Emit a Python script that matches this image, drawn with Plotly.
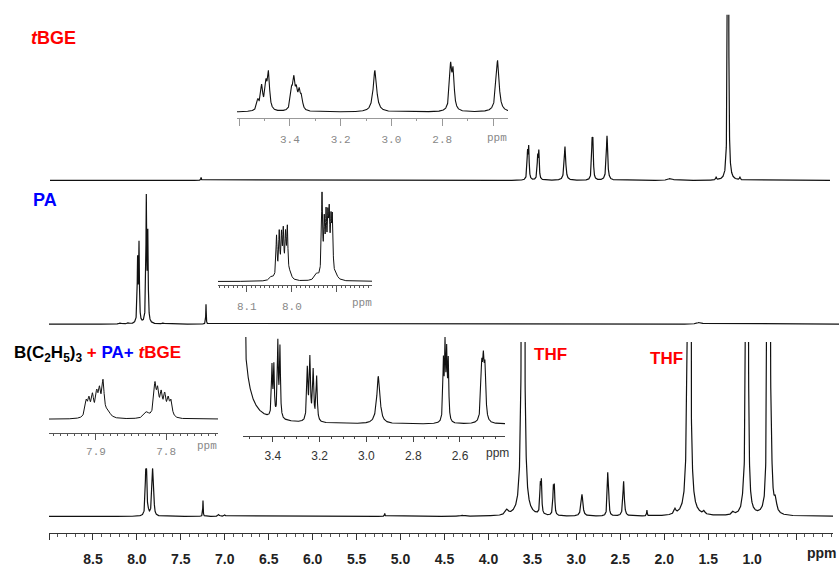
import numpy as np
import plotly.graph_objects as go

W, H = 839, 567

# ---------------- data: peak lists (ppm, intensity, half-width) ----------------
# top spectrum: tBGE
TBGE_PPM = [7.27, 3.556, 3.543, 3.441, 3.428, 3.130, 2.822, 2.812, 2.652, 1.93, 1.41, 1.275, 1.14]
TBGE_INT = [3, 26, 31, 22, 27, 34, 34, 34, 45, 2, 3, 1500, 3]
TBGE_W = [0.004, 0.006, 0.006, 0.006, 0.006, 0.010, 0.006, 0.006, 0.009, 0.03, 0.005, 0.003, 0.005]

# middle spectrum: PA
PA_PPM = [8.19, 8.10, 7.992, 7.976, 7.893, 7.876, 7.70, 7.214, 1.60]
PA_INT = [1.2, 1.2, 62, 78, 124, 86, 1.2, 20, 2]
PA_W = [0.01, 0.01, 0.005, 0.005, 0.005, 0.005, 0.01, 0.003, 0.03]

# bottom spectrum: B(C2H5)3 + PA + tBGE
MIX_PPM = [7.900, 7.890, 7.870, 7.840, 7.822, 7.812, 7.248, 7.07, 7.00, 5.18, 4.30, 3.79,
           3.607, 3.410, 3.398, 3.262, 3.250, 2.936, 2.643, 2.633, 2.462, 2.197, 1.878,
           1.719, 1.548, 1.218, 1.100, 1.068, 1.059, 1.050, 0.828, 0.814, 0.800, 0.780, 0.735]
MIX_INT = [37, 37, 3, 3, 37, 36, 16, 2, 1.5, 3, 1, 5,
           4000, 27, 31, 26, 27, 22, 39, 20, 35, 6, 5,
           4000, 3, 3, 8, 400, 800, 400, 300, 900, 500, 25, 12]
MIX_W = [0.006, 0.006, 0.01, 0.01, 0.006, 0.006, 0.003, 0.01, 0.01, 0.004, 0.02, 0.02,
         0.0045, 0.006, 0.006, 0.006, 0.006, 0.012, 0.006, 0.006, 0.009, 0.004, 0.012,
         0.0045, 0.012, 0.015, 0.015, 0.005, 0.005, 0.005, 0.005, 0.005, 0.005, 0.012, 0.015]

# inset: tBGE 2.5-3.6 ppm
TI_PPM = [3.526, 3.511, 3.494, 3.484, 3.393, 3.384, 3.374, 3.363, 3.354, 3.065, 2.767, 2.757, 2.582]
TI_INT = [10, 24, 24, 36, 18, 28, 17, 17, 12, 42, 43, 37, 52]
TI_W = [0.005, 0.005, 0.005, 0.005, 0.005, 0.005, 0.005, 0.005, 0.005, 0.008, 0.005, 0.005, 0.007]

# inset: PA 7.8-8.15 ppm
PI_PPM = [8.045, 8.034, 8.028, 8.023, 8.019, 8.014, 8.010, 8.004,
          7.945, 7.933, 7.928, 7.924, 7.920, 7.917, 7.913, 7.910, 7.902]
PI_INT = [4, 42, 44, 40, 44, 40, 48, 6,
          6, 82, 50, 56, 50, 55, 48, 54, 4]
PI_W = [0.005, 0.0015, 0.0015, 0.0015, 0.0015, 0.0015, 0.0015, 0.004,
        0.005, 0.0015, 0.0015, 0.0015, 0.0015, 0.0015, 0.0015, 0.0015, 0.005]

# inset: mixture 7.75-7.95 ppm
MA_PPM = [7.914, 7.910, 7.905, 7.899, 7.895, 7.890, 7.883,
          7.828, 7.816, 7.812, 7.807, 7.802, 7.797, 7.793]
MA_INT = [15, 16, 20, 21, 23, 34, 6,
          6, 31, 23, 21, 20, 16, 15]
MA_W = [0.002, 0.002, 0.002, 0.002, 0.002, 0.002, 0.004,
        0.004, 0.002, 0.002, 0.002, 0.002, 0.002, 0.002]

# inset: mixture 2.45-3.5 ppm
MB_PPM = [3.563, 3.404, 3.396, 3.379, 3.370, 3.253, 3.242, 3.228, 3.213, 2.949,
          2.671, 2.664, 2.657, 2.650, 2.507, 2.500, 2.493]
MB_INT = [3200, 50, 50, 75, 70, 52, 62, 50, 45, 48,
          58, 72, 64, 58, 50, 50, 48]
MB_W = [0.007, 0.0025, 0.0025, 0.0025, 0.0025, 0.003, 0.003, 0.003, 0.003, 0.008,
        0.0025, 0.0025, 0.0025, 0.0025, 0.004, 0.004, 0.004]

MAIN_TICKS = [9.0, 8.5, 8.0, 7.5, 7.0, 6.5, 6.0, 5.5, 5.0, 4.5, 4.0, 3.5, 3.0, 2.5, 2.0, 1.5, 1.0, 0.5]
MAIN_LABELS = ["", "8.5", "8.0", "7.5", "7.0", "6.5", "6.0", "5.5", "5.0", "4.5", "4.0",
               "3.5", "3.0", "2.5", "2.0", "1.5", "1.0", ""]
TI_TICKS = [3.6, 3.4, 3.2, 3.0, 2.8, 2.6]
TI_LABELS = ["", "3.4", "3.2", "3.0", "2.8", ""]
PI_TICKS = [8.1, 8.0, 7.9]
PI_LABELS = ["8.1", "8.0", ""]
MA_TICKS = [7.9, 7.8]
MA_LABELS = ["7.9", "7.8"]
MB_TICKS = [3.4, 3.2, 3.0, 2.8, 2.6]
MB_LABELS = ["3.4", "3.2", "3.0", "2.8", "2.6"]


def spectrum(x, pos, hts, wid):
    y = np.zeros_like(x)
    for c, h, w in zip(pos, hts, wid):
        y += h * w * w / ((x - c) ** 2 + w * w)
    return y


def dx(a, b):
    return [a / W, b / W]


def dy(top, bottom):
    return [1 - bottom / H, 1 - top / H]


fig = go.Figure()


def add(x, pos, hts, wid, xa, ya, width=1.2):
    y = spectrum(x, pos, hts, wid)
    fig.add_trace(go.Scatter(x=np.round(x, 4), y=np.round(y, 2), mode="lines",
                             line=dict(color="#111111", width=width),
                             xaxis=xa, yaxis=ya, hoverinfo="skip", showlegend=False))


xm = np.arange(0.0, 9.05, 0.001)
add(xm, MIX_PPM, MIX_INT, MIX_W, "x", "y")
add(xm, PA_PPM, PA_INT, PA_W, "x2", "y2")
add(xm, TBGE_PPM, TBGE_INT, TBGE_W, "x3", "y3")
add(np.arange(2.5, 3.65, 0.0002), TI_PPM, TI_INT, TI_W, "x4", "y4", 1.1)
add(np.arange(7.8, 8.2, 0.0002), PI_PPM, PI_INT, PI_W, "x5", "y5", 1.0)
add(np.arange(7.7, 7.98, 0.0002), MA_PPM, MA_INT, MA_W, "x6", "y6", 1.0)
add(np.arange(2.38, 3.55, 0.0002), MB_PPM, MB_INT, MB_W, "x7", "y7", 1.1)

hidden = dict(visible=False, showgrid=False, zeroline=False)

layout = dict(
    width=W, height=H, margin=dict(l=0, r=0, t=0, b=0),
    paper_bgcolor="white", plot_bgcolor="rgba(0,0,0,0)", showlegend=False,
    xaxis=dict(domain=dx(49, 833), range=[9.0, 0.08], anchor="y",
               showline=True, linecolor="#333", linewidth=1,
               showgrid=False, zeroline=False,
               tickmode="array", tickvals=MAIN_TICKS, ticktext=MAIN_LABELS,
               ticks="outside", ticklen=6, tickcolor="#333", tickwidth=1,
               ticklabelstandoff=7,
               tickfont=dict(family="Liberation Sans, Arial", size=14, color="#222", weight="bold"),
               minor=dict(tickmode="linear", tick0=0, dtick=0.1, ticks="outside",
                          ticklen=3, tickcolor="#555", tickwidth=1)),
    yaxis=dict(domain=dy(345, 538), range=[-17, 176], **hidden),
    xaxis2=dict(domain=dx(49, 839), range=[9.0, 0.013], anchor="y2", **hidden),
    yaxis2=dict(domain=dy(185, 335), range=[-8, 142], **hidden),
    xaxis3=dict(domain=dx(50, 830), range=[8.989, 0.115], anchor="y3", **hidden),
    yaxis3=dict(domain=dy(15, 190), range=[-8, 167], **hidden),
)


def inset_x(dom, rng, ya, tv, tt, minor_dt, lc, font, size, fcolor, tlen, standoff):
    return dict(domain=dom, range=rng, anchor=ya, showline=True, linecolor=lc, linewidth=1,
                showgrid=False, zeroline=False, tickmode="array", tickvals=tv, ticktext=tt,
                ticks="outside", ticklen=tlen, tickcolor=lc, tickwidth=1,
                ticklabelstandoff=standoff,
                tickfont=dict(family=font, size=size, color=fcolor),
                minor=dict(tickmode="linear", tick0=0, dtick=minor_dt, ticks="outside",
                           ticklen=2, tickcolor=lc, tickwidth=1))


MONO = "Liberation Mono, Courier New, monospace"
SANS = "Liberation Sans, Arial"
layout["xaxis4"] = inset_x(dx(237, 508), [3.608, 2.541], "y4", TI_TICKS, TI_LABELS, 0.1,
                           "#999", MONO, 11, "#888", 7, 4)
layout["yaxis4"] = dict(domain=dy(55, 119), range=[-6, 58], **hidden)
layout["xaxis5"] = inset_x(dx(218, 372), [8.164, 7.822], "y5", PI_TICKS, PI_LABELS, 0.01,
                           "#555", MONO, 11, "#888", 6, 4)
layout["yaxis5"] = dict(domain=dy(185, 288), range=[-4, 99], **hidden)
layout["xaxis6"] = inset_x(dx(49, 218), [7.967, 7.726], "y6", MA_TICKS, MA_LABELS, 0.01,
                           "#555", MONO, 11, "#888", 6, 2)
layout["yaxis6"] = dict(domain=dy(378, 437), range=[-14, 45], **hidden)
layout["xaxis7"] = inset_x(dx(243, 505), [3.528, 2.4075], "y7", MB_TICKS, MB_LABELS, 0.05,
                           "#444", SANS, 12, "#333", 5, 3)
layout["yaxis7"] = dict(domain=dy(340, 440), range=[-12, 88], **hidden)

fig.update_layout(**layout)


def ann(x, y, text, size, color="#000", family="Liberation Sans, Arial", bold=True, anchor="left"):
    fig.add_annotation(x=x / W, y=1 - y / H, xref="paper", yref="paper", text=text,
                       showarrow=False, xanchor=anchor, yanchor="middle",
                       font=dict(family=family, size=size, color=color,
                                 weight="bold" if bold else "normal"))


RED, BLUE = "#ff0000", "#0000ff"
ann(29, 38, "<i>t</i>BGE", 18, RED)
ann(31, 202, "PA", 18, BLUE)
ann(12, 357, "B(C<sub>2</sub>H<sub>5</sub>)<sub>3</sub> "
    f"<span style='color:{RED}'>+ </span><span style='color:{BLUE}'>PA+ </span>"
    f"<span style='color:{RED}'><i>t</i>BGE</span>", 17, "#000")
ann(550, 358, "THF", 17, RED, anchor="center")
ann(666, 362, "THF", 17, RED, anchor="center")
ann(822, 558, "ppm", 14, "#222", anchor="center")
ann(497, 139, "ppm", 11, "#888", family=MONO, bold=False, anchor="center")
ann(362, 306, "ppm", 11, "#888", family=MONO, bold=False, anchor="center")
ann(207, 450, "ppm", 11, "#888", family=MONO, bold=False, anchor="center")
ann(497, 457, "ppm", 12, "#333", family=SANS, bold=False, anchor="center")

fig.write_html("out.html", config={"displayModeBar": False},
               post_script="document.body.style.margin='0';")
